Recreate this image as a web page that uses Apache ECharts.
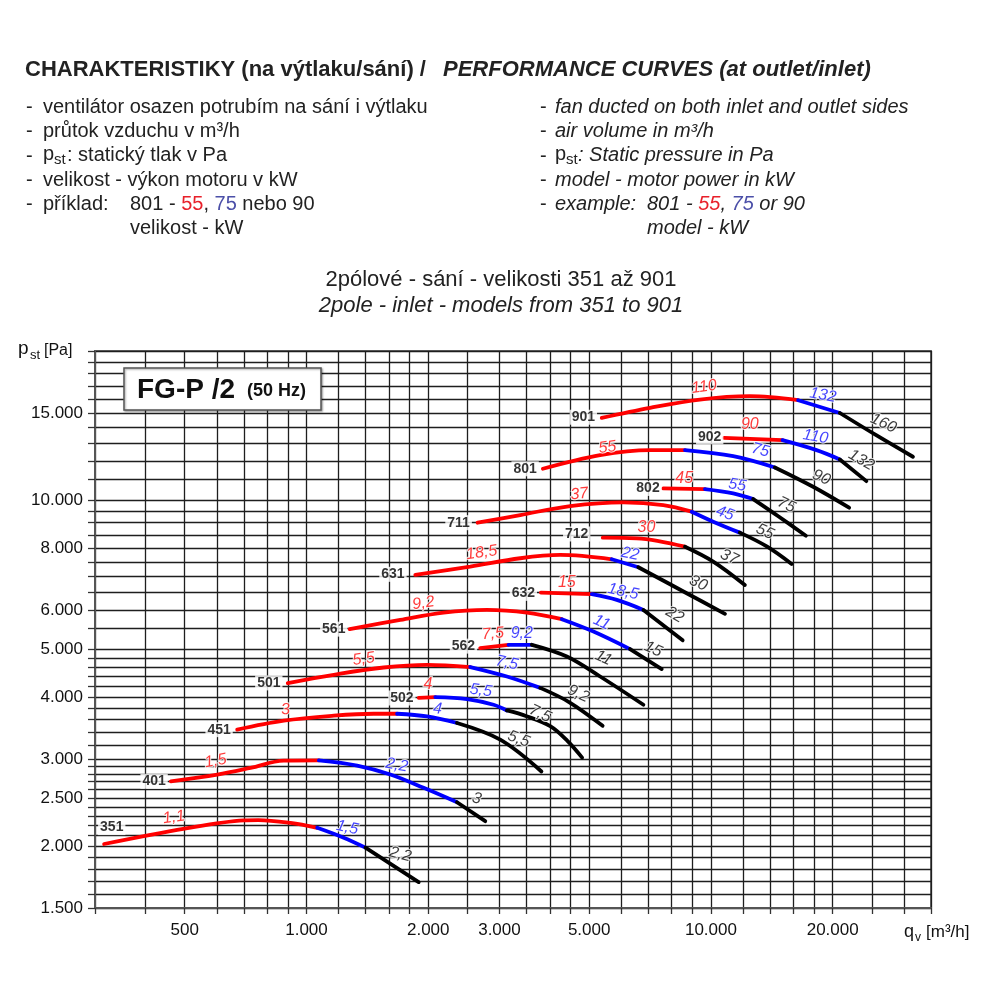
<!DOCTYPE html>
<html><head><meta charset="utf-8">
<script src="https://cdn.jsdelivr.net/npm/echarts@6.0.0/dist/echarts.min.js"></script>
<style>html,body{margin:0;padding:0;background:#fff}#c{width:1000px;height:1000px}</style>
</head><body><div id="c"></div>
<script>
// ---- axis ticks / labels ----
const xGridValues = [300,400,500,600,700,800,900,1000,1200,1400,1600,1800,2000,2500,3000,3500,4000,4500,5000,6000,7000,8000,9000,10000,12000,14000,16000,18000,20000,25000,30000,35000];
const xLabelValues = [500,1000,2000,3000,5000,10000,20000];
const yGridValues = [1500,1600,1700,1800,1900,2000,2100,2200,2300,2400,2500,2600,2700,2800,2900,3000,3200,3400,3600,3800,4000,4200,4400,4600,4800,5000,5500,6000,6500,7000,7500,8000,8500,9000,9500,10000,11000,12000,13000,14000,15000,16000,17000,18000,19000,20000];
const yLabelValues = [1500,2000,2500,3000,4000,5000,6000,8000,10000,15000];

// ---- curves: [q m3/h, pst Pa]; split = indices where red->blue and blue->black ----
const m351 = [[316,2020],[500,2170],[700,2255],[760,2258],[913,2228],[1063,2178],[1236,2080],[1399,1986],[1894,1692]];
const m351Split = [5,7];
const m351Kw = ['1,1','1,5','2,2'];
const m351KwAt = [[470,2287],[1261,2180],[1706,1924]];
const m351TagAt = [330,2180];

const m401 = [[462,2704],[602,2790],[727,2877],[879,2976],[1073,2980],[1334,2909],[1612,2790],[1948,2623],[2356,2453],[2767,2246]];
const m401Split = [4,8];
const m401Kw = ['1,5','2,2','3'];
const m401KwAt = [[596,2972],[1672,2915],[2637,2496]];
const m401TagAt = [420,2704];

const m451 = [[674,3438],[879,3584],[1168,3668],[1466,3702],[1675,3702],[1987,3656],[2356,3546],[3013,3281],[3810,2830]];
const m451Split = [4,6];
const m451Kw = ['3','4','5,5'];
const m451KwAt = [[887,3772],[2109,3784],[3346,3291]];
const m451TagAt = [608,3438];

const m501 = [[899,4270],[1168,4437],[1552,4590],[1987,4648],[2541,4600],[3130,4402],[3783,4175],[4467,3905],[5397,3500]];
const m501Split = [4,6];
const m501Kw = ['5,5','7,5','9,2'];
const m501KwAt = [[1385,4773],[3130,4690],[4703,4064]];
const m501TagAt = [807,4273];

const m502 = [[1895,3985],[2082,4001],[2494,3964],[2901,3860],[3130,3759],[3500,3660],[4005,3494],[4411,3267],[4803,3019]];
const m502Split = [1,4];
const m502Kw = ['4','5,5','7,5'];
const m502KwAt = [[1997,4236],[2699,4124],[3783,3702]];
const m502TagAt = [1721,3983];

const m561 = [[1279,5487],[1706,5728],[2183,5926],[2794,6000],[3506,5926],[4279,5746],[5123,5426],[6310,5000],[7556,4556]];
const m561Split = [5,7];
const m561Kw = ['9,2','11','15'];
const m561KwAt = [[1946,6190],[5370,5657],[7194,5000]];
const m561TagAt = [1168,5487];

const m562 = [[2688,5023],[3159,5101],[3608,5101],[4403,4831],[5321,4402],[6808,3860]];
const m562Split = [1,2];
const m562Kw = ['7,5','9,2','11'];
const m562KwAt = [[2889,5370],[3406,5370],[5420,4796]];
const m562TagAt = [2444,5070];

const m631 = [[1858,7060],[2541,7339],[3377,7629],[4239,7747],[5686,7593],[6614,7317],[8710,6484],[10830,5890]];
const m631Split = [4,5];
const m631Kw = ['18,5','22','30'];
const m631KwAt = [[2711,7830],[6310,7782],[9306,6793]];
const m631TagAt = [1636,7080];

const m632 = [[3798,6502],[5076,6454],[5851,6285],[6808,6000],[8513,5208]];
const m632Split = [1,3];
const m632Kw = ['15','18,5','22'];
const m632KwAt = [[4403,6810],[6069,6530],[8136,5862]];
const m632TagAt = [3437,6480];

const m711 = [[2649,9000],[3377,9328],[4487,9725],[6074,9893],[7623,9770],[8962,9473],[10130,9045],[11790,8594],[13740,8060],[15830,7430]];
const m711Split = [5,7];
const m711Kw = ['37','45','55'];
const m711KwAt = [[4729,10282],[10830,9402],[13600,8634]];
const m711TagAt = [2377,9000];

const m712 = [[5402,8394],[6554,8370],[8627,8050],[10130,7513],[12130,6737]];
const m712Split = [2,2];
const m712Kw = ['30',null,'37'];
const m712KwAt = [[6929,8810],null,[11100,7668]];
const m712TagAt = [4657,8540];

const m801 = [[3841,11565],[5321,12323],[7070,12613],[8627,12613],[11350,12266],[14390,11637],[17890,10637],[21960,9650]];
const m801Split = [3,5];
const m801Kw = ['55','75','90'];
const m801KwAt = [[5544,12770],[13250,12613],[18740,11110]];
const m801TagAt = [3472,11565];

const m802 = [[7623,10556],[9665,10524],[11350,10316],[12720,10046],[14730,9255],[17170,8472]];
const m802Split = [1,3];
const m802Kw = ['45','55','75'];
const m802KwAt = [[8591,11060],[11620,10720],[15370,9770]];
const m802TagAt = [6989,10556];

const m901 = [[5370,14650],[7070,15350],[9393,15960],[12480,16210],[16430,15910],[20830,14990],[25620,13520],[31580,12230]];
const m901Split = [4,5];
const m901Kw = ['110','132','160'];
const m901KwAt = [[9621,16930],[18920,16280],[26700,14280]];
const m901TagAt = [4837,14700];

const m902 = [[10770,13350],[15030,13210],[18240,12613],[20830,12080],[24230,10920]];
const m902Split = [1,3];
const m902Kw = ['90','110','132'];
const m902KwAt = [[12480,14230],[18140,13420],[23530,12040]];
const m902TagAt = [9930,13420];

const kwRotation = {
  '351':[8,-12,-15],'401':[10,-10,-15],'451':[5,-5,-20],'501':[8,-12,-25],'502':[0,-8,-25],
  '561':[8,-25,-25],'562':[5,0,-25],'631':[8,-12,-25],'632':[0,-12,-30],'711':[6,-20,-25],
  '712':[0,0,-25],'801':[8,-15,-25],'802':[0,-10,-25],'901':[8,-10,-25],'902':[0,-10,-30]
};

const curves = [
  ['351',m351,m351Split,m351Kw,m351KwAt,m351TagAt],
  ['401',m401,m401Split,m401Kw,m401KwAt,m401TagAt],
  ['451',m451,m451Split,m451Kw,m451KwAt,m451TagAt],
  ['501',m501,m501Split,m501Kw,m501KwAt,m501TagAt],
  ['502',m502,m502Split,m502Kw,m502KwAt,m502TagAt],
  ['561',m561,m561Split,m561Kw,m561KwAt,m561TagAt],
  ['562',m562,m562Split,m562Kw,m562KwAt,m562TagAt],
  ['631',m631,m631Split,m631Kw,m631KwAt,m631TagAt],
  ['632',m632,m632Split,m632Kw,m632KwAt,m632TagAt],
  ['711',m711,m711Split,m711Kw,m711KwAt,m711TagAt],
  ['712',m712,m712Split,m712Kw,m712KwAt,m712TagAt],
  ['801',m801,m801Split,m801Kw,m801KwAt,m801TagAt],
  ['802',m802,m802Split,m802Kw,m802KwAt,m802TagAt],
  ['901',m901,m901Split,m901Kw,m901KwAt,m901TagAt],
  ['902',m902,m902Split,m902Kw,m902KwAt,m902TagAt]
];

const segColors = ['#ff0000','#0000ff','#000000'];
const kwTextColors = ['#ff0a0a','#1414ff','#0a0a0a'];
const FONT = '"Liberation Sans", Arial, sans-serif';
const fmt = v => String(Math.round(v)).replace(/\B(?=(\d{3})+(?!\d))/g, '.');

const series = [];
const kwLabels = [];
const tagLabels = [];
curves.forEach(([tag, pts, split, kw, kwAt, tagAt]) => {
  const bounds = [[0, split[0]], [split[0], split[1]], [split[1], pts.length - 1]];
  bounds.forEach(([a, b], i) => {
    if (b <= a) return;
    series.push({
      type: 'line', data: pts.slice(a, b + 1), smooth: 0.35, showSymbol: false,
      silent: true, z: 3, lineStyle: { color: segColors[i], width: 3.8, cap: 'round' }
    });
  });
  kw.forEach((t, i) => {
    if (!t) return;
    kwLabels.push({
      value: kwAt[i],
      label: { formatter: t, color: kwTextColors[i], rotate: kwRotation[tag][i] }
    });
  });
  tagLabels.push({ value: tagAt, label: { formatter: tag } });
});

series.push({
  type: 'scatter', data: kwLabels, symbolSize: 0, silent: true, z: 5,
  label: { show: true, position: 'inside', fontFamily: FONT, fontSize: 16, fontStyle: 'italic',
           textBorderColor: '#fff', textBorderWidth: 2 }
});
series.push({
  type: 'scatter', data: tagLabels, symbolSize: 0, silent: true, z: 6,
  label: { show: true, position: 'inside', fontFamily: FONT, fontSize: 14, fontWeight: 'bold',
           color: '#000', backgroundColor: '#fff', padding: [1, 2, 0, 2] }
});

const T = (x, y, text, size, opts = {}) => ({
  type: 'text', x, y, z: 10,
  style: Object.assign({ text, font: (opts.style || '') + ' ' + (opts.weight || 'normal') + ' ' + size + 'px ' + FONT,
    fill: opts.fill || '#222', align: opts.align || 'left', verticalAlign: 'middle' }, opts.extra || {})
});

const graphic = [
  T(25, 70, 'CHARAKTERISTIKY (na výtlaku/sání) /', 22, { weight: 'bold' }),
  T(443, 70, 'PERFORMANCE CURVES (at outlet/inlet)', 22, { weight: 'bold', style: 'italic' }),
  T(26, 107, '-', 20), T(43, 107, 'ventilátor osazen potrubím na sání i výtlaku', 20),
  T(26, 131, '-', 20), T(43, 131, 'průtok vzduchu v m³/h', 20),
  T(26, 156, '-', 20), T(43, 154, 'p', 20), T(54, 160, 'st', 15), T(67, 155, ': statický tlak v Pa', 20),
  T(26, 180, '-', 20), T(43, 180, 'velikost - výkon motoru v kW', 20),
  T(26, 204, '-', 20), T(43, 204, 'příklad:', 20),
  { type: 'text', x: 130, y: 204, z: 10, style: { text: '{t|801 - }{r|55}{t|, }{b|75}{t| nebo 90}', verticalAlign: 'middle',
      rich: { t: { font: '20px ' + FONT, fill: '#222' }, r: { font: '20px ' + FONT, fill: '#e8202a' }, b: { font: '20px ' + FONT, fill: '#4b4fa8' } } } },
  T(130, 228, 'velikost - kW', 20),
  T(540, 107, '-', 20), T(555, 107, 'fan ducted on both inlet and outlet sides', 20, { style: 'italic' }),
  T(540, 131, '-', 20), T(555, 131, 'air volume in m³/h', 20, { style: 'italic' }),
  T(540, 156, '-', 20), T(555, 154, 'p', 20), T(566, 160, 'st', 15), T(578, 155, ': Static pressure in Pa', 20, { style: 'italic' }),
  T(540, 180, '-', 20), T(555, 180, 'model - motor power in kW', 20, { style: 'italic' }),
  T(540, 204, '-', 20), T(555, 204, 'example:', 20, { style: 'italic' }),
  { type: 'text', x: 647, y: 204, z: 10, style: { text: '{t|801 - }{r|55}{t|, }{b|75}{t| or 90}', verticalAlign: 'middle',
      rich: { t: { font: 'italic 20px ' + FONT, fill: '#222' }, r: { font: 'italic 20px ' + FONT, fill: '#e8202a' }, b: { font: 'italic 20px ' + FONT, fill: '#4b4fa8' } } } },
  T(647, 228, 'model - kW', 20, { style: 'italic' }),
  T(501, 280, '2pólové - sání - velikosti 351 až 901', 22, { align: 'center' }),
  T(501, 306, '2pole - inlet - models from 351 to 901', 22, { align: 'center', style: 'italic' }),
  // axis names
  T(18, 349, 'p', 19, { fill: '#111' }), T(30, 355, 'st', 13, { fill: '#111' }), T(44, 351, '[Pa]', 16, { fill: '#111' }),
  T(904, 932, 'q', 18, { fill: '#111' }), T(915, 938, 'v', 12, { fill: '#111' }), T(926, 932, '[m³/h]', 17, { fill: '#111' }),
  // FG-P box
  { type: 'rect', shape: { x: 124, y: 368, width: 197, height: 42 }, z: 8,
    style: { fill: '#fff', stroke: '#555', lineWidth: 1.5, shadowBlur: 2, shadowColor: 'rgba(0,0,0,0.35)', shadowOffsetX: 1, shadowOffsetY: 1 } },
  T(137, 390, 'FG-P /2', 28, { weight: 'bold', fill: '#111' }),
  T(247, 391, '(50 Hz)', 18, { weight: 'bold', fill: '#111' })
];

const chart = echarts.init(document.getElementById('c'), null, { renderer: 'canvas' });
chart.setOption({
  animation: false,
  backgroundColor: '#fff',
  grid: { left: 95, right: 69, top: 351, bottom: 92, show: true, borderColor: '#666', borderWidth: 2, backgroundColor: 'transparent' },
  xAxis: {
    type: 'log', logBase: 10, min: 300, max: 35000,
    axisLine: { show: true, onZero: false, lineStyle: { color: '#555', width: 2 } },
    axisTick: { show: true, customValues: xGridValues, length: 6, lineStyle: { color: '#333', width: 1.3 } },
    axisLabel: { show: true, customValues: xLabelValues, formatter: fmt, fontFamily: FONT, fontSize: 17, color: '#111', margin: 14 },
    splitLine: { show: true, lineStyle: { color: '#1e1e1e', width: 1.3 } },
    minorTick: { show: false }, minorSplitLine: { show: false }
  },
  yAxis: {
    type: 'log', logBase: 10, min: 1500, max: 20000,
    axisLine: { show: true, onZero: false, lineStyle: { color: '#555', width: 2 } },
    axisTick: { show: true, customValues: yGridValues, length: 7, lineStyle: { color: '#333', width: 1.3 } },
    axisLabel: { show: true, customValues: yLabelValues, formatter: fmt, fontFamily: FONT, fontSize: 17, color: '#111', margin: 12 },
    splitLine: { show: true, lineStyle: { color: '#1e1e1e', width: 1.3 } },
    minorTick: { show: false }, minorSplitLine: { show: false }
  },
  series,
  graphic
});
</script>
</body></html>
